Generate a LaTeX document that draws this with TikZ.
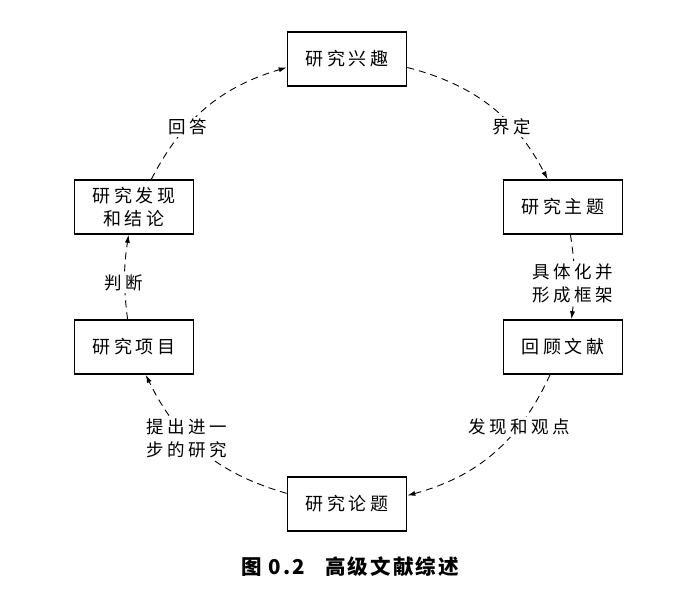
\documentclass[tikz,border=0pt]{standalone}
\usepackage{fontspec}
\newfontfamily\cjk[LetterSpace=20]{Noto Sans CJK SC}
\newfontfamily\capfont[LetterSpace=10]{Noto Sans CJK SC}
\usetikzlibrary{arrows.meta}

\begin{document}
\begin{tikzpicture}[
    x=1pt, y=1pt,
    stage/.style={rectangle, draw, line width=1.6pt, minimum width=119pt, minimum height=54pt, align=center, inner sep=2pt, font=\cjk\fontsize{18}{23}\selectfont},
    note/.style={fill=white, align=center, inner sep=2pt, font=\cjk\fontsize{17.5}{23}\selectfont},
    flow/.style={-{Latex[length=8pt, width=5pt]}, line width=0.9pt, dash pattern=on 7pt off 5pt}
]
\useasboundingbox (0,0) rectangle (677,611);

% Stages of the cycle
\node[stage] (interest) at (347,552) {研究兴趣};
\node[stage] (topic) at (563,404) {研究主题};
\node[stage] (review) at (563,264) {回顾文献};
\node[stage] (issue) at (347,107) {研究论题};
\node[stage] (project) at (134,264) {研究项目};
\node[stage] (findings) at (134,404) {研究发现\\和结论};

% Dashed arcs round the circle
\draw[flow] (interest.-8) to[bend left=24] (topic.119);
\draw[flow] (topic.-75) to[bend left=8] (review.73);
\draw[flow] (review.-115) to[bend left=25] (issue.8);
\draw[flow] (issue.170) to[bend left=24] (project.-67);
\draw[flow] (project.103) to[bend left=8] (findings.-101);
\draw[flow] (findings.58) to[bend left=23] (interest.188);

% Labels on the arcs
\node[note] (define) at (512,484) {界定};
\node[note] (frame) at (573,328) {具体化并\\形成框架};
\node[note] (views) at (519,184) {发现和观点};
\node[note] (further) at (187,173) {提出进一\\步的研究};
\node[note] (judge) at (124,328) {判断};
\node[note] (answer) at (188,484) {回答};

% Caption
\node[font=\capfont\bfseries\fontsize{20.5}{24}\selectfont] (caption) at (350,44) {图 0.2\hspace{1em}高级文献综述};
\end{tikzpicture}
\end{document}
